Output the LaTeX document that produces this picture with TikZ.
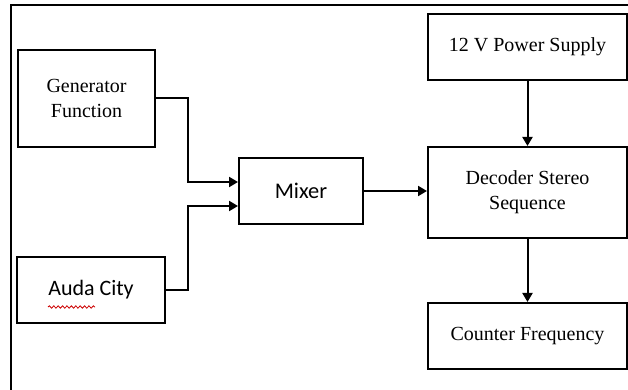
\documentclass[tikz,border=0pt]{standalone}
\usepackage{fontspec}
\setmainfont{Liberation Serif}
\newfontfamily\calibrifont{Carlito}
\usetikzlibrary{arrows.meta,decorations.pathmorphing}

\begin{document}
\begin{tikzpicture}[x=0.5pt, y=-0.5pt,
        block/.style={draw, line width=1pt, align=center, inner sep=0pt,
            font=\fontsize{10}{12.5}\selectfont},
        wideblock/.style={block, minimum width=99.5pt, minimum height=33pt},
        flow/.style={line width=1pt, -{Triangle[length=4.5pt,width=5pt]}}]
        \useasboundingbox (0,0) rectangle (628,390);

        % Frame
        \draw[line width=1pt] (11,390) -- (11,5) -- (628,5);

        % Sources
        \node[block, minimum width=68.5pt, minimum height=48.5pt] (gen) at (86.5,98.5) {Generator\\Function};
        \node[block, minimum width=74pt, minimum height=33pt, font=\calibrifont\fontsize{11}{13}\selectfont] (auda) at (91,290) {Auda City};
        \draw[red!80!black, line width=0.4pt, decorate, decoration={snake, amplitude=0.6pt, segment length=2.2pt}]
            ([shift={(-43,17)}]auda.center) -- ([shift={(4,17)}]auda.center);

        % Mixer
        \node[block, minimum width=62pt, minimum height=33pt, font=\calibrifont\fontsize{11.2}{13}\selectfont] (mixer) at (301,191) {Mixer};

        % Right column
        \node[wideblock] (power) at (527.5,47) {12 V Power Supply};
        \node[wideblock, minimum height=45.5pt] (decoder) at (527.5,192.5) {Decoder Stereo\\Sequence};
        \node[wideblock] (counter) at (527.5,336) {Counter Frequency};

        % Connections
        \draw[flow] (gen.east) -| (188,182) -- ([yshift=4.5pt]mixer.west);
        \draw[flow] (auda.east) -| (188,206) -- ([yshift=-7.5pt]mixer.west);
        \draw[flow] (mixer.east) -- (mixer.east -| decoder.west);
        \draw[flow] (power) -- (decoder);
        \draw[flow] (decoder) -- (counter);
    \end{tikzpicture}
\end{document}
